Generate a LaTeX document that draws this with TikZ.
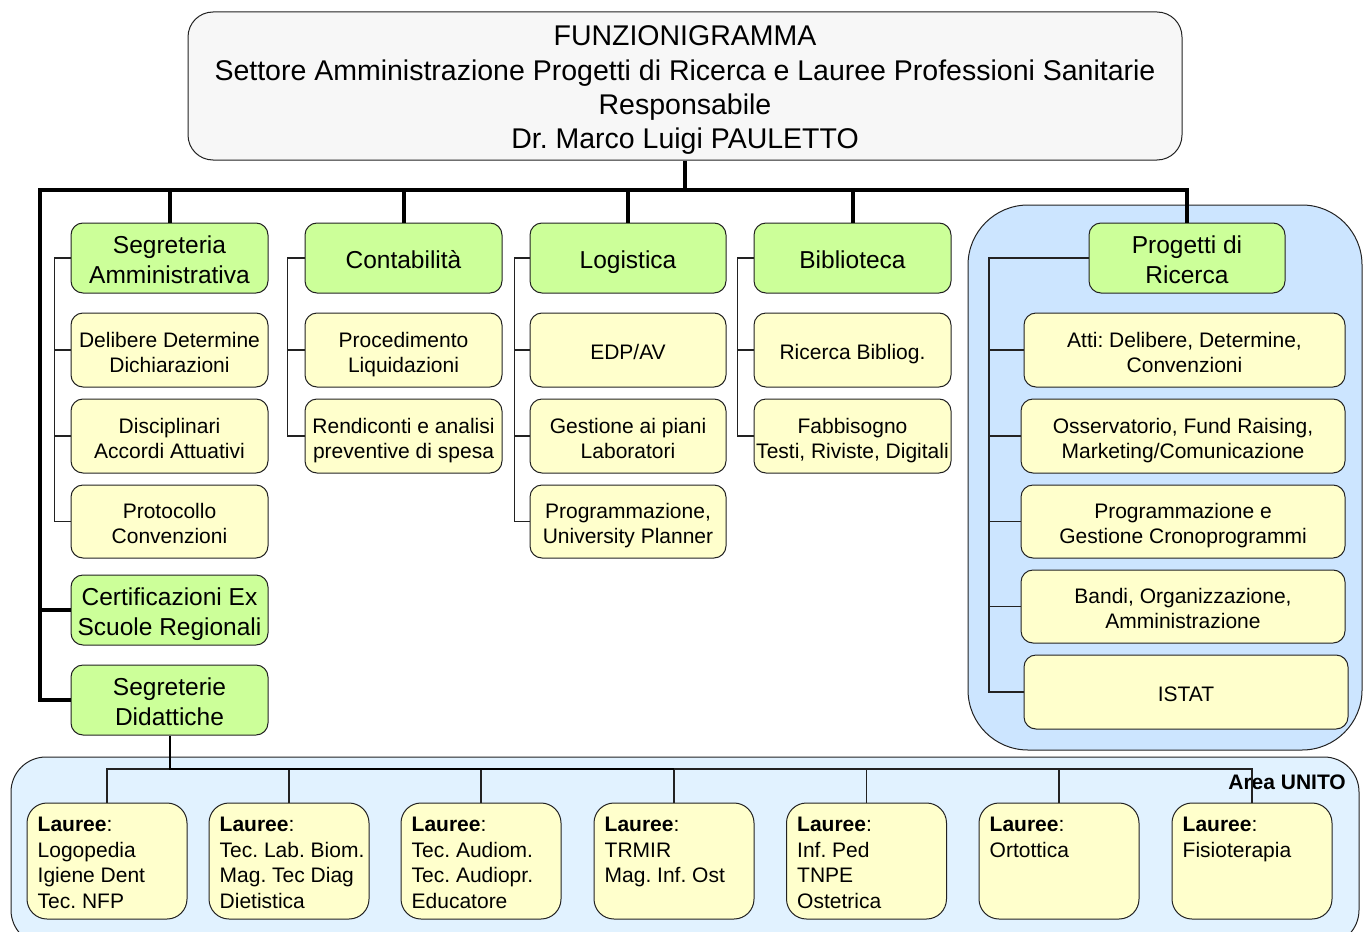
\documentclass[tikz,border=0pt]{standalone}
\usepackage{fontspec}
\setmainfont{Liberation Sans}
\frenchspacing
\definecolor{topfill}{HTML}{F7F7F7}
\definecolor{gfill}{HTML}{CCFF99}
\definecolor{yfill}{HTML}{FFFFCC}
\definecolor{rpanel}{HTML}{CCE5FF}
\definecolor{bpanel}{HTML}{E1F2FF}
\definecolor{edge}{HTML}{222222}
\newcommand\ystrutA{\rule{0pt}{1.20em}}
\newcommand\gstrutA{\rule{0pt}{1.08em}}
\newcommand\tstrutA{\rule{0pt}{1.05em}}
\newcommand\dstrut{\rule[-0.25em]{0pt}{0.25em}}
\tikzset{
  topbox/.style={execute at begin node=\tstrutA, execute at end node=\dstrut, draw=edge, line width=1pt, fill=topfill, rounded corners=25pt, text width=994pt, minimum height=148pt, inner sep=0pt, align=flush center, font=\fontsize{28.5}{34.3}\selectfont},
  gbox/.style={execute at begin node=\gstrutA, execute at end node=\dstrut, draw=edge, line width=1pt, fill=gfill, rounded corners=12pt, text width=197pt, minimum height=70pt, inner sep=0pt, align=flush center, font=\fontsize{24.5}{30}\selectfont},
  ybox/.style={execute at begin node=\ystrutA, execute at end node=\dstrut, draw=edge, line width=1pt, fill=yfill, rounded corners=12pt, text width=197pt, minimum height=74pt, inner sep=0pt, align=flush center, font=\fontsize{21}{25}\selectfont},
  lbox/.style={draw=edge, line width=1pt, fill=yfill, rounded corners=20pt, minimum width=160pt, minimum height=116pt, inner sep=0pt},
  ltext/.style={anchor=north west, inner sep=0pt, align=left, font=\fontsize{21}{25.5}\selectfont},
  bus/.style={line width=4pt, draw=black},
  conn/.style={line width=1.3pt, draw=edge},
  medconn/.style={line width=2pt, draw=black},
}
\begin{document}
\begin{tikzpicture}[x=1pt,y=-1pt]
\useasboundingbox (0,0) rectangle (1364,931);
% panels
\draw[draw=edge, line width=1pt, fill=rpanel, rounded corners=60pt] (968,205) rectangle (1362,750);
\draw[draw=edge, line width=1pt, fill=bpanel, rounded corners=35pt] (11,757) rectangle (1359,945);
\node[anchor=east, inner sep=0pt, font=\fontsize{21}{25}\selectfont\bfseries] (area) at (1346,782) {Area UNITO};

% top
\node[topbox] (top) at (685,86) {FUNZIONIGRAMMA\\Settore Amministrazione Progetti di Ricerca e Lauree Professioni Sanitarie\\Responsabile\\Dr. Marco Luigi PAULETTO};

% column 1
\node[gbox] (sa) at (169.5,258) {Segreteria\\Amministrativa};
\node[ybox] (del) at (169.5,350) {Delibere Determine\\Dichiarazioni};
\node[ybox] (disc) at (169.5,436) {Disciplinari\\Accordi Attuativi};
\node[ybox, minimum height=73pt] (prot) at (169.5,521.5) {Protocollo\\Convenzioni};
\node[gbox] (cert) at (169.5,610) {Certificazioni Ex\\Scuole Regionali};
\node[gbox] (sd) at (169.5,700) {Segreterie\\Didattiche};

% column 2
\node[gbox] (cont) at (403.5,258) {Contabilità};
\node[ybox] (proc) at (403.5,350) {Procedimento\\Liquidazioni};
\node[ybox] (rend) at (403.5,436) {Rendiconti e analisi\\preventive di spesa};

% column 3
\node[gbox, text width=196pt] (log) at (628,258) {Logistica};
\node[ybox, text width=196pt] (edp) at (628,350) {EDP/AV};
\node[ybox, text width=196pt] (gest) at (628,436) {Gestione ai piani\\Laboratori};
\node[ybox, text width=196pt, minimum height=73pt] (progr) at (628,521.5) {Programmazione,\\University Planner};

% column 4
\node[gbox] (bib) at (852.5,258) {Biblioteca};
\node[ybox] (ric) at (852.5,350) {Ricerca Bibliog.};
\node[ybox] (fab) at (852.5,436) {Fabbisogno\\Testi, Riviste, Digitali};

% column 5
\node[gbox, text width=196pt] (pr) at (1187,258) {Progetti di\\Ricerca};
\node[ybox, text width=321pt] (atti) at (1184.5,350) {Atti: Delibere, Determine,\\Convenzioni};
\node[ybox, text width=324pt] (oss) at (1183,436) {Osservatorio, Fund Raising,\\Marketing/Comunicazione};
\node[ybox, text width=324pt, minimum height=73pt] (pgc) at (1183,521.5) {Programmazione e\\Gestione Cronoprogrammi};
\node[ybox, text width=324pt, minimum height=73pt] (bandi) at (1183,606.5) {Bandi, Organizzazione,\\Amministrazione};
\node[ybox, text width=324pt] (istat) at (1186,692) {ISTAT};

% bottom boxes
\node[lbox] (b1) at (107,861) {};
\node[lbox] (b2) at (289,861) {};
\node[lbox] (b3) at (481,861) {};
\node[lbox] (b4) at (674,861) {};
\node[lbox] (b5) at (866.5,861) {};
\node[lbox] (b6) at (1059,861) {};
\node[lbox] (b7) at (1252,861) {};
\node[ltext] (t1) at ([xshift=11pt,yshift=-14.5pt]b1.north west) {\textbf{Lauree}:\\Logopedia\\Igiene Dent\\Tec. NFP};
\node[ltext] (t2) at ([xshift=11pt,yshift=-14.5pt]b2.north west) {\textbf{Lauree}:\\Tec. Lab. Biom.\\Mag. Tec Diag\\Dietistica};
\node[ltext] (t3) at ([xshift=11pt,yshift=-14.5pt]b3.north west) {\textbf{Lauree}:\\Tec. Audiom.\\Tec. Audiopr.\\Educatore};
\node[ltext] (t4) at ([xshift=11pt,yshift=-14.5pt]b4.north west) {\textbf{Lauree}:\\TRMIR\\Mag. Inf. Ost};
\node[ltext] (t5) at ([xshift=11pt,yshift=-14.5pt]b5.north west) {\textbf{Lauree}:\\Inf. Ped\\TNPE\\Ostetrica};
\node[ltext] (t6) at ([xshift=11pt,yshift=-14.5pt]b6.north west) {\textbf{Lauree}:\\Ortottica};
\node[ltext] (t7) at ([xshift=11pt,yshift=-14.5pt]b7.north west) {\textbf{Lauree}:\\Fisioterapia};

% main bus
\coordinate (busL) at (40,190);
\draw[bus] (top.south) -- (top.south |- busL);
\draw[bus, line join=miter] (sd.west) -| (busL) -| (pr.north);
\draw[bus] (busL |- cert.west) -- (cert.west);
\draw[bus] (sa.north) -- (sa.north |- busL);
\draw[bus] (cont.north) -- (cont.north |- busL);
\draw[bus] (log.north) -- (log.north |- busL);
\draw[bus] (bib.north) -- (bib.north |- busL);

% thin connectors
\draw[conn] (sa.west) -- ++(-16,0) |- (prot.west);
\draw[conn] (del.west) -- ++(-16,0);
\draw[conn] (disc.west) -- ++(-16,0);

\draw[conn] (cont.west) -- ++(-17,0) |- (rend.west);
\draw[conn] (proc.west) -- ++(-17,0);

\draw[conn] (log.west) -- ++(-15,0) |- (progr.west);
\draw[conn] (edp.west) -- ++(-15,0);
\draw[conn] (gest.west) -- ++(-15,0);

\draw[conn] (bib.west) -- ++(-16,0) |- (fab.west);
\draw[conn] (ric.west) -- ++(-16,0);

\coordinate (rv) at (989,258);
\draw[conn] (pr.west) -- (rv) |- (istat.west);
\draw[conn] (rv |- atti.west) -- (atti.west);
\draw[conn] (rv |- oss.west) -- (oss.west);
\draw[conn] (rv |- pgc.west) -- (pgc.west);
\draw[conn] (rv |- bandi.west) -- (bandi.west);

% bottom connectors
\coordinate (hb) at (0,769);
\draw[conn] (b1.north) -- (b1.north |- hb) -- (b7.north |- hb) -- (b7.north);
\foreach \b in {b2,b3,b4,b5,b6} { \draw[conn] (\b.north) -- (\b.north |- hb); }
\draw[medconn] (sd.south) -- (sd.south |- hb) -- (b4.north |- hb);
\end{tikzpicture}
\end{document}
